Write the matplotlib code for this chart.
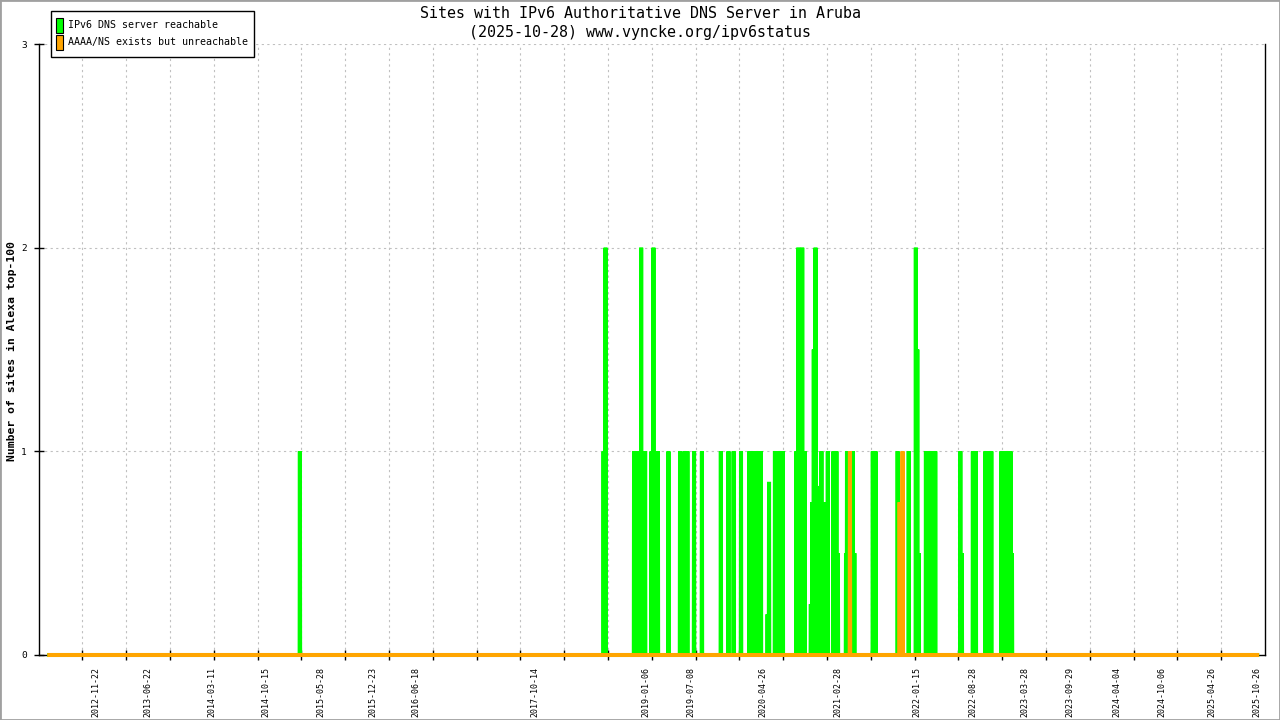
import numpy as np
import pandas as pd
import matplotlib
matplotlib.use("Agg")
import matplotlib.pyplot as plt
from matplotlib.patches import Rectangle

# ---------------- data ----------------
TITLE_1 = "Sites with IPv6 Authoritative DNS Server in Aruba"
TITLE_2 = "(2025-10-28) www.vyncke.org/ipv6status"
YLABEL = "Number of sites in Alexa top-100"
SERIES_NAMES = ["IPv6 DNS server reachable", "AAAA/NS exists but unreachable"]
COLORS = ["#00ff00", "#ffa500"]

FIRST_DAY = "2012-05-17"
LAST_DAY = "2025-10-28"

reach_dates = [
    "2015-03-02",
    "2018-07-19", "2018-07-27",
    "2018-11-20", "2018-11-28",
    "2018-12-11", "2018-12-19", "2018-12-29", "2019-01-04",
    "2019-01-30", "2019-02-07", "2019-02-17", "2019-02-25",
    "2019-04-09", "2019-05-26", "2019-06-13", "2019-06-25",
    "2019-07-22", "2019-08-23", "2019-11-08", "2019-12-09",
    "2019-12-30", "2020-01-29",
    "2020-03-03", "2020-03-13", "2020-03-26", "2020-04-07", "2020-04-19",
    "2020-05-16", "2020-05-22", "2020-06-15", "2020-06-27", "2020-07-09", "2020-07-17",
    "2020-09-10", "2020-09-18", "2020-10-04", "2020-10-14",
    "2020-11-08", "2020-11-14", "2020-11-20", "2020-11-27", "2020-12-07", "2020-12-21",
    "2021-01-06", "2021-01-16",
    "2021-02-08", "2021-02-20", "2021-02-26",
    "2021-03-31", "2021-04-04", "2021-04-28", "2021-05-04",
    "2021-07-18", "2021-07-29",
    "2021-10-27", "2021-12-11",
    "2022-01-09", "2022-01-15", "2022-01-21",
    "2022-02-19", "2022-03-03", "2022-03-15", "2022-03-29",
    "2022-07-09", "2022-07-15",
    "2022-08-29", "2022-09-10",
    "2022-10-19", "2022-10-31", "2022-11-12",
    "2022-12-23", "2023-01-04", "2023-01-16", "2023-01-29", "2023-02-04",
]
reach_values = [
    1,
    1, 2,
    1, 1,
    1, 2, 1, 1,
    1, 2, 1, 1,
    1, 1, 1, 1,
    1, 1, 1, 1,
    1, 1,
    1, 1, 1, 1, 1,
    0.2, 0.85, 1, 1, 1, 1,
    1, 2, 2, 1,
    0.25, 0.75, 1.5, 2, 0.83, 1,
    0.75, 1,
    1, 1, 0.5,
    0.5, 1, 1, 0.5,
    1, 1,
    1, 1,
    2, 1.5, 0.5,
    1, 1, 1, 1,
    1, 0.5,
    1, 1,
    1, 1, 1,
    1, 1, 1, 1, 0.5,
]

unreach_dates = ["2021-04-16", "2021-11-04", "2021-11-16"]
unreach_values = [1, 0.75, 1]

date_labels = [
    "2012-11-22", "2013-06-22", "2014-03-11", "2014-10-15", "2015-05-28",
    "2015-12-23", "2016-06-18", "2017-10-14", "2019-01-06", "2019-07-08",
    "2020-04-26", "2021-02-28", "2022-01-15", "2022-08-28", "2023-03-28",
    "2023-09-29", "2024-04-04", "2024-10-06", "2025-04-26", "2025-10-26",
]
y_ticks = [0, 1, 2, 3]

X_START = "2012-04-03"
X_END = "2025-11-29"
N_GRID = 28

# ---------------- build series ----------------
days = pd.date_range(FIRST_DAY, LAST_DAY, freq="D")
reach = pd.Series(0.0, index=days)
reach.loc[pd.to_datetime(reach_dates)] = reach_values
unreach = pd.Series(0.0, index=days)
unreach.loc[pd.to_datetime(unreach_dates)] = unreach_values

# ---------------- figure ----------------
W, H = 1280, 720
fig = plt.figure(figsize=(W / 100, H / 100), dpi=100)
MONO = ["DejaVu Sans Mono"]

def fx(x):
    return x / W

def fy(y):
    return 1 - y / H

ax_l, ax_r, ax_t, ax_b = 38.5, 1265, 44, 655
ax = fig.add_axes([fx(ax_l), fy(ax_b), (ax_r - ax_l) / W, (ax_b - ax_t) / H])

lw = 2.9
ax.plot(reach.index, reach.values, color=COLORS[0], lw=lw, clip_on=False,
        solid_joinstyle="bevel", solid_capstyle="projecting", zorder=3)
ax.plot(unreach.index, unreach.values, color=COLORS[1], lw=lw, clip_on=False,
        solid_joinstyle="bevel", solid_capstyle="projecting", zorder=4)

x0 = pd.Timestamp(X_START)
x1 = pd.Timestamp(X_END)
ax.set_xlim(x0, x1)
ax.set_ylim(0, 3)

grid_pos = [x0 + (x1 - x0) * k / N_GRID for k in range(1, N_GRID)]
ax.set_xticks(grid_pos)
ax.set_xticklabels([])
ax.set_xticks(pd.to_datetime(date_labels), minor=True)
ax.set_xticklabels(date_labels, minor=True, rotation=90, fontsize=6.0,
                   family=MONO)
ax.tick_params(axis="x", which="major", direction="inout", length=7,
               width=1, color="black")
ax.tick_params(axis="x", which="minor", length=0, pad=8.5)

ax.set_yticks(y_ticks)
ax.set_yticklabels([str(v) for v in y_ticks], fontsize=6.8, family=MONO)
ax.tick_params(axis="y", direction="inout", length=7, width=1, pad=5)

ax.grid(True, which="major", color="#c0c0c0", lw=0.8, ls=(0, (2, 3)))
ax.set_axisbelow(True)
ax.spines["top"].set_visible(False)
for s in ["left", "bottom", "right"]:
    ax.spines[s].set_linewidth(1)
    ax.spines[s].set_color("black")

# titles / labels
fig.text(0.5, fy(13), TITLE_1, ha="center", va="center", fontsize=10.8,
         family=MONO)
fig.text(0.5, fy(32), TITLE_2, ha="center", va="center", fontsize=10.8,
         family=MONO)
fig.text(fx(12), fy(351), YLABEL, rotation=90, ha="center", va="center",
         fontsize=8.2, family=MONO, weight="bold")

# legend
fig.add_artist(Rectangle((fx(50.5), fy(57)), (254 - 50.5) / W, (57 - 10.5) / H,
                         transform=fig.transFigure, facecolor="white",
                         edgecolor="black", lw=1, zorder=5))
for i, (name, col, yc) in enumerate(zip(SERIES_NAMES, COLORS, [25.5, 42.5])):
    fig.add_artist(Rectangle((fx(56), fy(yc + 7)), 6.5 / W, 14 / H,
                             transform=fig.transFigure, facecolor=col,
                             edgecolor="black", lw=0.8, zorder=6))
    fig.text(fx(67.5), fy(yc), name, ha="left", va="center", fontsize=7.2,
             family=MONO, zorder=7)

# outer frame
fig.add_artist(Rectangle((0, 0), 1, 1, transform=fig.transFigure,
                         fill=False, edgecolor="#a0a0a0", lw=2))

fig.savefig("out.png", dpi=100)
